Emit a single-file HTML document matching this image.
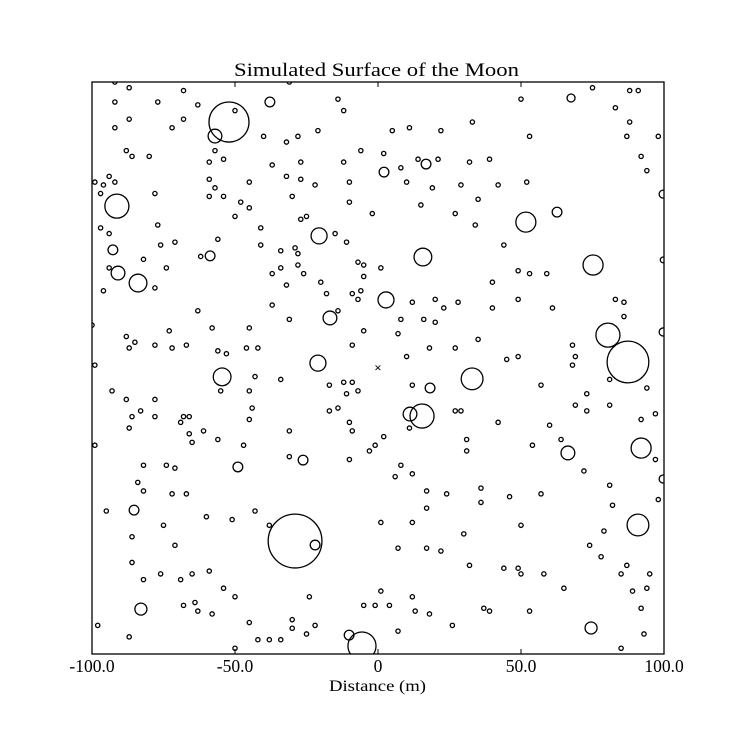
<!DOCTYPE html>
<html><head><meta charset="utf-8"><style>
html,body{margin:0;padding:0;background:#fff;}
svg{display:block;}
text{font-family:"Liberation Serif",serif;fill:#000;}
</style></head><body>
<svg id="chart" width="737" height="737" viewBox="0 0 737 737">
<defs><clipPath id="clip"><rect x="92" y="82" width="572" height="572"/></clipPath></defs>
<rect x="0" y="0" width="737" height="737" fill="#fff"/>
<text x="234" y="76" font-size="19" textLength="285" lengthAdjust="spacingAndGlyphs">Simulated Surface of the Moon</text>
<g id="craters" clip-path="url(#clip)"></g>
<g id="axes"></g>
<text x="329" y="691" font-size="16" textLength="97" lengthAdjust="spacingAndGlyphs">Distance (m)</text>
</svg>
<script>
// Large/medium craters: x (m), y (m), radius (m)
const bigX = [-52.1,-29.0,87.4,-57.0,-91.3,51.7,75.2,80.4,15.7,-20.6,-54.5,-21.0,32.9,15.4,11.2,2.8,-16.8,-83.9,-90.9,-5.6,-10.1,90.9,92.0,66.4,74.5,-82.9,-85.3,-49.0,-26.2,-22.0,-37.8,2.1,16.8,62.6,67.5,18.2,-92.7,-58.7,99.7,99.7,99.7,99.7];
const bigY = [86.0,-60.5,2.1,81.1,56.6,51.0,36.0,11.5,38.8,46.2,-3.1,1.7,-3.8,-16.8,-16.1,23.8,17.5,29.7,33.2,-97.2,-93.4,-54.9,-28.0,-29.7,-90.9,-84.3,-49.7,-34.6,-32.2,-61.9,93.0,68.5,71.3,54.5,94.4,-7.0,41.3,39.2,60.8,12.6,-38.8,37.8];
const bigR = [7.0,9.4,7.3,2.4,4.2,3.5,3.5,4.2,3.1,2.8,3.1,2.8,3.8,4.2,2.4,2.8,2.4,3.1,2.4,4.9,1.7,3.8,3.5,2.4,2.1,2.1,1.7,1.7,1.7,1.7,1.7,1.7,1.7,1.7,1.4,1.7,1.7,1.7,1.4,1.4,1.4,1.0];
// Small craters: [x, y] in metres
const smallXY = [[-92,100],[-87,98],[-77,93],[-92,93],[-87,87],[-68,97],[-63,92],[-68,87],[-50,90],[-40,81],[-28,81],[-21,83],[-32,79],[-12,90],[-14,94],[-31,100],[-92,84],[-88,76],[-86,74],[-80,74],[-72,84],[-57,76],[-59,72],[-54,73],[-37,71],[-27,72],[-27,66],[-32,67],[-12,72],[-6,76],[2,75],[11,84],[5,83],[22,83],[33,86],[50,94],[53,81],[62,101],[75,98],[83,91],[88,97],[91,97],[88,86],[87,81],[92,74],[98,81],[94,69],[19,63],[14,73],[21,73],[32,72],[39,73],[42,64],[52,65],[29,64],[10,65],[8,70],[15,57],[27,54],[34,50],[35,59],[44,43],[49,34],[53,33],[59,33],[40,30],[49,24],[40,21],[61,21],[68,8],[69,4],[57,-6],[69,-13],[73,-9],[73,-15],[81,-13],[83,24],[86,23],[86,18],[92,-18],[97,-16],[81,-4],[94,-7],[64,-25],[72,-36],[81,-41],[97,-32],[98,-46],[82,-48],[79,-57],[74,-62],[78,-66],[85,-72],[87,-69],[95,-72],[94,-77],[89,-78],[92,-84],[93,-93],[85,-98],[65,-77],[58,-72],[53,-85],[50,-72],[50,-55],[57,-44],[46,-45],[36,-47],[36,-42],[30,-58],[32,-69],[44,-70],[49,-70],[37,-84],[39,-85],[26,-90],[17,-43],[24,-44],[17,-63],[22,-64],[12,-54],[7,-63],[1,-54],[1,-78],[-1,-83],[-5,-83],[4,-83],[7,-92],[12,-80],[18,-86],[13,-85],[-24,-80],[-22,-90],[-25,-93],[-30,-88],[-30,-91],[-34,-95],[-42,-95],[-38,-95],[-45,-89],[-50,-98],[-58,-86],[-63,-85],[-64,-82],[-68,-83],[-76,-72],[-82,-74],[-87,-94],[-98,-90],[-69,-74],[-65,-72],[-59,-71],[-54,-77],[-50,-80],[-43,-50],[-38,-55],[-51,-53],[-60,-52],[-71,-62],[-67,-44],[-72,-44],[-75,-55],[-82,-43],[-84,-40],[-95,-50],[-86,-59],[-86,-68],[-82,-34],[-74,-34],[-71,-35],[-87,-21],[-86,-17],[-83,-15],[-78,-17],[-68,-17],[-66,-17],[-69,-19],[-56,-25],[-45,-18],[-44,-14],[-47,-27],[-31,-22],[-31,-31],[-17,-15],[-10,-19],[-9,-22],[-10,-32],[-3,-29],[-1,-27],[2,-24],[8,-34],[11,-21],[17,-49],[29,-15],[27,-15],[31,-25],[42,-19],[31,-29],[54,-27],[60,-20],[49,4],[45,3],[68,1],[-99,-27],[-93,-8],[-100,15],[-99,1],[-88,11],[-87,7],[-85,9],[-78,8],[-73,13],[-72,7],[-67,8],[-58,14],[-56,6],[-53,5],[-46,7],[-42,7],[-45,14],[-31,17],[-37,22],[-32,29],[-37,33],[-34,35],[-28,36],[-34,41],[-29,42],[-41,43],[-41,49],[-27,52],[-25,53],[-15,47],[-11,44],[-10,58],[-2,54],[-10,65],[-22,64],[-30,60],[-45,56],[-48,58],[-54,60],[-50,53],[-45,65],[-57,63],[-59,66],[-59,60],[-78,61],[-77,50],[-71,44],[-76,43],[-74,35],[-82,38],[-94,47],[-97,49],[-97,61],[-99,65],[-94,67],[-96,64],[-92,65],[-96,27],[-94,35],[-78,28],[-63,20],[-62,39],[-56,45],[-28,40],[-26,33],[-20,30],[-18,26],[-7,37],[-5,36],[-5,32],[1,35],[-6,27],[-9,26],[-14,20],[-7,24],[8,17],[12,23],[16,17],[20,24],[20,16],[23,21],[28,23],[35,10],[27,7],[18,7],[10,4],[7,12],[-9,8],[-17,-6],[-12,-5],[-9,-5],[-7,-8],[-11,-9],[-14,-14],[-5,13],[-78,-11],[-88,-11],[-66,-23],[-65,-26],[-61,-22],[-55,-8],[-45,-8],[-43,-3],[-34,-4],[12,-6],[6,-38],[12,-37]];
const smallR = 0.75;
const xTicks = [-100, -50, 0, 50, 100];
const xTickLabels = ["-100.0","-50.0","0","50.0","100.0"];

const NS = "http://www.w3.org/2000/svg";
const L=92, R=664, T=82, B=654;
function sx(v){ return L + (v + 100) / 200 * (R - L); }
function sy(v){ return B - (v + 100) / 200 * (B - T); }
function sr(v){ return v / 200 * (R - L); }
const g = document.getElementById('craters');
function crater(x, y, r, name){
  const c = document.createElementNS(NS,'circle');
  c.setAttribute('cx', sx(x)); c.setAttribute('cy', sy(y)); c.setAttribute('r', Math.max(sr(r),1.6));
  c.setAttribute('fill','none'); c.setAttribute('stroke','#000'); c.setAttribute('stroke-width','1.3');
  
  
  g.appendChild(c);
}
for (let i=0;i<bigX.length;i++) crater(bigX[i], bigY[i], bigR[i], 'crater-large');
for (let i=0;i<smallXY.length;i++) crater(smallXY[i][0], smallXY[i][1], smallR, 'crater-small');
// center marker
const mk = document.createElementNS(NS,'text');
mk.setAttribute('x', sx(0)); mk.setAttribute('y', sy(0)+4);
mk.setAttribute('font-size','13'); mk.setAttribute('font-weight','bold'); mk.setAttribute('text-anchor','middle');
mk.textContent = '×';


g.appendChild(mk);

const ax = document.getElementById('axes');
const frame = document.createElementNS(NS,'rect');
frame.setAttribute('x',L); frame.setAttribute('y',T); frame.setAttribute('width',R-L); frame.setAttribute('height',B-T);
frame.setAttribute('fill','none'); frame.setAttribute('stroke','#000'); frame.setAttribute('stroke-width','1.3');


ax.appendChild(frame);
for (let i=0;i<xTicks.length;i++){
  const x = sx(xTicks[i]);
  [[B, B-5],[T, T+5]].forEach(p=>{
    const l = document.createElementNS(NS,'line');
    l.setAttribute('x1',x); l.setAttribute('x2',x); l.setAttribute('y1',p[0]); l.setAttribute('y2',p[1]);
    l.setAttribute('stroke','#000'); l.setAttribute('stroke-width','1');
    
    
    ax.appendChild(l);
  });
  const t = document.createElementNS(NS,'text');
  t.setAttribute('x', x); t.setAttribute('y', 672); t.setAttribute('font-size','17.5'); t.setAttribute('text-anchor','middle');
  t.textContent = xTickLabels[i];
  
  
  ax.appendChild(t);
}
</script>
</body></html>
